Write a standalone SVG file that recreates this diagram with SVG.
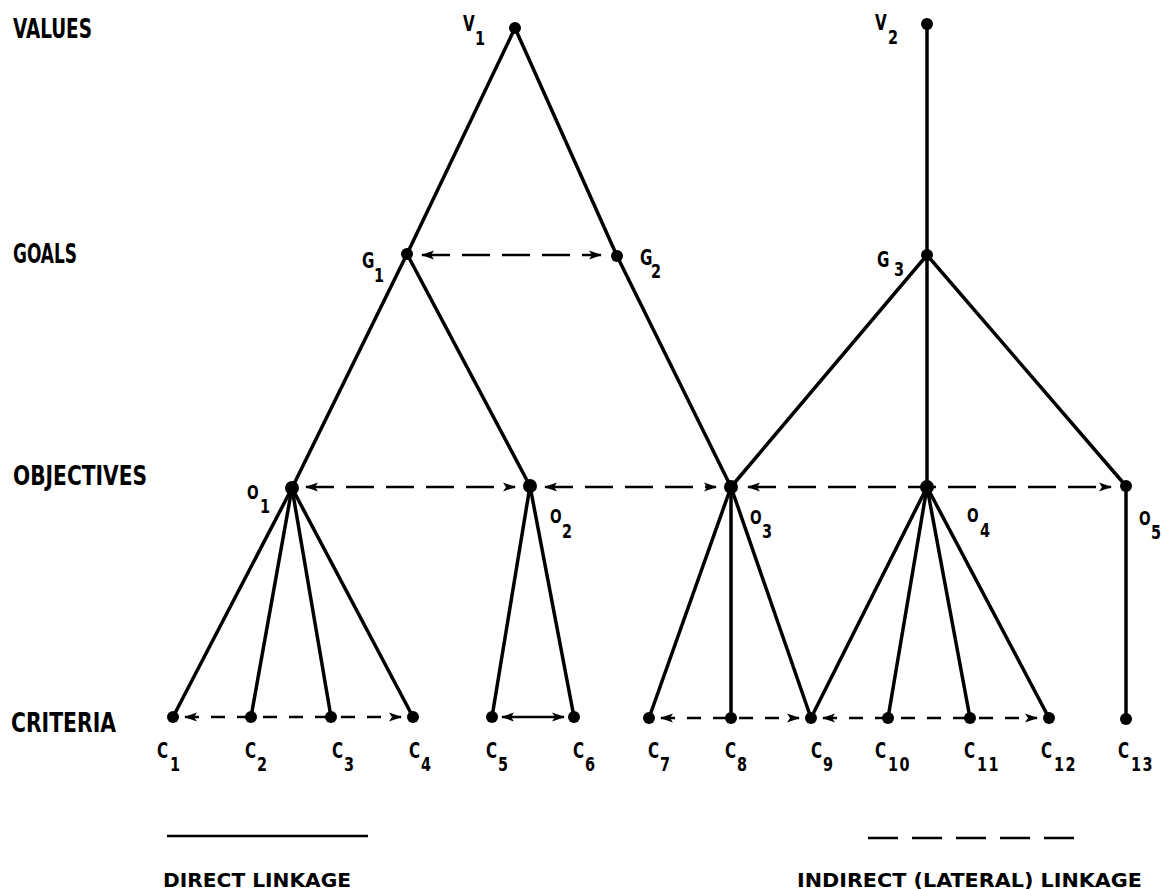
<svg xmlns="http://www.w3.org/2000/svg" width="1163" height="889" viewBox="0 0 1163 889">
<defs>
<marker id="ah" viewBox="0 0 13 10" refX="12" refY="5" markerWidth="13" markerHeight="10" markerUnits="userSpaceOnUse" orient="auto-start-reverse">
<path d="M0,0.5 L13,5 L0,9.5 L3,5 Z" fill="#000"/>
</marker>
</defs>
<style>
.solid{stroke:#000;stroke-width:3.5;fill:none;stroke-linecap:round}
.dash{stroke:#000;stroke-width:2.5;fill:none;stroke-dasharray:28 12}
.dashs{stroke:#000;stroke-width:2.5;fill:none;stroke-dasharray:14 12}
.dot{fill:#000}
.lvl{font-family:"DejaVu Sans Condensed","DejaVu Sans",sans-serif;font-weight:bold;font-size:26px;fill:#000}
.leg{font-family:"DejaVu Sans Condensed","DejaVu Sans",sans-serif;font-weight:bold;font-size:19px;fill:#000}
.nl{font-family:"DejaVu Sans Condensed","DejaVu Sans",sans-serif;font-weight:bold;font-size:21px;fill:#000}
.ol{font-size:19px}
.sub{font-size:20px}
</style>
<rect width="1163" height="889" fill="#fff"/>
<g id="level-labels">
<text class="lvl" x="13" y="38" textLength="79" lengthAdjust="spacingAndGlyphs">VALUES</text>
<text class="lvl" x="13" y="263" textLength="64" lengthAdjust="spacingAndGlyphs">GOALS</text>
<text class="lvl" x="13" y="485" textLength="134" lengthAdjust="spacingAndGlyphs">OBJECTIVES</text>
<text class="lvl" x="11" y="732" textLength="105" lengthAdjust="spacingAndGlyphs">CRITERIA</text>
</g>
<g id="connectors">
<line class="solid" x1="515" y1="28" x2="407" y2="254"/>
<line class="solid" x1="515" y1="28" x2="617" y2="256"/>
<line class="solid" x1="407" y1="254" x2="292" y2="488"/>
<line class="solid" x1="407" y1="254" x2="530" y2="486"/>
<line class="solid" x1="617" y1="256" x2="731" y2="487"/>
<line class="solid" x1="927" y1="24" x2="927" y2="255"/>
<line class="solid" x1="927" y1="255" x2="731" y2="487"/>
<line class="solid" x1="927" y1="255" x2="927" y2="487"/>
<line class="solid" x1="927" y1="255" x2="1126" y2="486"/>
<line class="solid" x1="292" y1="488" x2="173" y2="717"/>
<line class="solid" x1="292" y1="488" x2="251" y2="717"/>
<line class="solid" x1="292" y1="488" x2="331" y2="717"/>
<line class="solid" x1="292" y1="488" x2="413" y2="717"/>
<line class="solid" x1="530" y1="486" x2="492" y2="717"/>
<line class="solid" x1="530" y1="486" x2="574" y2="717"/>
<line class="solid" x1="731" y1="487" x2="649" y2="718"/>
<line class="solid" x1="731" y1="487" x2="731" y2="718"/>
<line class="solid" x1="731" y1="487" x2="811" y2="718"/>
<line class="solid" x1="927" y1="487" x2="811" y2="718"/>
<line class="solid" x1="927" y1="487" x2="888" y2="718"/>
<line class="solid" x1="927" y1="487" x2="970" y2="718"/>
<line class="solid" x1="927" y1="487" x2="1049" y2="718"/>
<line class="solid" x1="1126" y1="486" x2="1126" y2="719"/>
<line class="dash" x1="422" y1="255" x2="601" y2="255" marker-start="url(#ah)" marker-end="url(#ah)"/>
<line class="dash" x1="306" y1="487" x2="515" y2="487" marker-start="url(#ah)" marker-end="url(#ah)"/>
<line class="dash" x1="545" y1="487" x2="716" y2="487" marker-start="url(#ah)" marker-end="url(#ah)"/>
<line class="dash" x1="748" y1="487" x2="1111" y2="487" marker-start="url(#ah)" marker-end="url(#ah)"/>
<line class="dashs" x1="185" y1="717" x2="401" y2="717" marker-start="url(#ah)" marker-end="url(#ah)"/>
<line class="dashs" x1="502" y1="717" x2="564" y2="717" marker-start="url(#ah)" marker-end="url(#ah)" style="stroke-dasharray:none"/>
<line class="dashs" x1="661" y1="718" x2="799" y2="718" marker-start="url(#ah)" marker-end="url(#ah)"/>
<line class="dashs" x1="823" y1="718" x2="1037" y2="718" marker-start="url(#ah)" marker-end="url(#ah)"/>
</g>
<g id="V1"><circle class="dot" cx="515" cy="28" r="6"/><text class="nl" transform="translate(463 31) scale(0.8 1)">V</text><text class="nl sub" transform="translate(475 45) scale(0.8 1)">1</text></g>
<g id="V2"><circle class="dot" cx="927" cy="24" r="6"/><text class="nl" transform="translate(875 30) scale(0.8 1)">V</text><text class="nl sub" transform="translate(888 44) scale(0.8 1)">2</text></g>
<g id="G1"><circle class="dot" cx="407" cy="254" r="6"/><text class="nl" transform="translate(362 268) scale(0.8 1)">G</text><text class="nl sub" transform="translate(374 282) scale(0.8 1)">1</text></g>
<g id="G2"><circle class="dot" cx="617" cy="256" r="6"/><text class="nl" transform="translate(640 265) scale(0.8 1)">G</text><text class="nl sub" transform="translate(651 278) scale(0.8 1)">2</text></g>
<g id="G3"><circle class="dot" cx="927" cy="255" r="6"/><text class="nl" transform="translate(877 267) scale(0.8 1)">G</text><text class="nl sub" transform="translate(894 276) scale(0.8 1)">3</text></g>
<g id="O1"><circle class="dot" cx="292" cy="488" r="7"/><text class="nl ol" transform="translate(247 499) scale(0.8 1)">O</text><text class="nl sub" transform="translate(260 513) scale(0.8 1)">1</text></g>
<g id="O2"><circle class="dot" cx="530" cy="486" r="7"/><text class="nl ol" transform="translate(550 523) scale(0.8 1)">O</text><text class="nl sub" transform="translate(562 538) scale(0.8 1)">2</text></g>
<g id="O3"><circle class="dot" cx="731" cy="487" r="7"/><text class="nl ol" transform="translate(750 524) scale(0.8 1)">O</text><text class="nl sub" transform="translate(762 538) scale(0.8 1)">3</text></g>
<g id="O4"><circle class="dot" cx="927" cy="487" r="7"/><text class="nl ol" transform="translate(967 522) scale(0.8 1)">O</text><text class="nl sub" transform="translate(980 537) scale(0.8 1)">4</text></g>
<g id="O5"><circle class="dot" cx="1126" cy="486" r="6"/><text class="nl ol" transform="translate(1139 525) scale(0.8 1)">O</text><text class="nl sub" transform="translate(1151 539) scale(0.8 1)">5</text></g>
<g id="C1"><circle class="dot" cx="173" cy="717" r="6"/><text class="nl" transform="translate(157 758) scale(0.8 1)">C</text><text class="nl sub" transform="translate(170 771) scale(0.8 1)">1</text></g>
<g id="C2"><circle class="dot" cx="251" cy="717" r="6"/><text class="nl" transform="translate(245 758) scale(0.8 1)">C</text><text class="nl sub" transform="translate(257 771) scale(0.8 1)">2</text></g>
<g id="C3"><circle class="dot" cx="331" cy="717" r="6"/><text class="nl" transform="translate(332 758) scale(0.8 1)">C</text><text class="nl sub" transform="translate(344 771) scale(0.8 1)">3</text></g>
<g id="C4"><circle class="dot" cx="413" cy="717" r="6"/><text class="nl" transform="translate(409 758) scale(0.8 1)">C</text><text class="nl sub" transform="translate(421 771) scale(0.8 1)">4</text></g>
<g id="C5"><circle class="dot" cx="492" cy="717" r="6"/><text class="nl" transform="translate(486 758) scale(0.8 1)">C</text><text class="nl sub" transform="translate(498 771) scale(0.8 1)">5</text></g>
<g id="C6"><circle class="dot" cx="574" cy="717" r="6"/><text class="nl" transform="translate(573 758) scale(0.8 1)">C</text><text class="nl sub" transform="translate(585 771) scale(0.8 1)">6</text></g>
<g id="C7"><circle class="dot" cx="649" cy="718" r="6"/><text class="nl" transform="translate(648 758) scale(0.8 1)">C</text><text class="nl sub" transform="translate(660 771) scale(0.8 1)">7</text></g>
<g id="C8"><circle class="dot" cx="731" cy="718" r="6"/><text class="nl" transform="translate(725 758) scale(0.8 1)">C</text><text class="nl sub" transform="translate(737 771) scale(0.8 1)">8</text></g>
<g id="C9"><circle class="dot" cx="811" cy="718" r="6"/><text class="nl" transform="translate(811 758) scale(0.8 1)">C</text><text class="nl sub" transform="translate(823 771) scale(0.8 1)">9</text></g>
<g id="C10"><circle class="dot" cx="888" cy="718" r="6"/><text class="nl" transform="translate(875 758) scale(0.8 1)">C</text><text class="nl sub" transform="translate(888 771) scale(0.8 1)" letter-spacing="2">10</text></g>
<g id="C11"><circle class="dot" cx="970" cy="718" r="6"/><text class="nl" transform="translate(964 758) scale(0.8 1)">C</text><text class="nl sub" transform="translate(977 771) scale(0.8 1)" letter-spacing="2">11</text></g>
<g id="C12"><circle class="dot" cx="1049" cy="718" r="6"/><text class="nl" transform="translate(1041 758) scale(0.8 1)">C</text><text class="nl sub" transform="translate(1054 771) scale(0.8 1)" letter-spacing="2">12</text></g>
<g id="C13"><circle class="dot" cx="1126" cy="719" r="6"/><text class="nl" transform="translate(1118 758) scale(0.8 1)">C</text><text class="nl sub" transform="translate(1131 771) scale(0.8 1)" letter-spacing="2">13</text></g>
<g id="legend">
<line x1="167" y1="836" x2="368" y2="836" style="stroke:#000;stroke-width:2.5"/>
<line x1="868" y1="838" x2="1074" y2="838" style="stroke:#000;stroke-width:2.5;stroke-dasharray:30 14"/>
<text class="leg" x="163" y="887" textLength="188" lengthAdjust="spacingAndGlyphs">DIRECT LINKAGE</text>
<text class="leg" x="797" y="887" textLength="345" lengthAdjust="spacingAndGlyphs">INDIRECT (LATERAL) LINKAGE</text>
</g>
</svg>
